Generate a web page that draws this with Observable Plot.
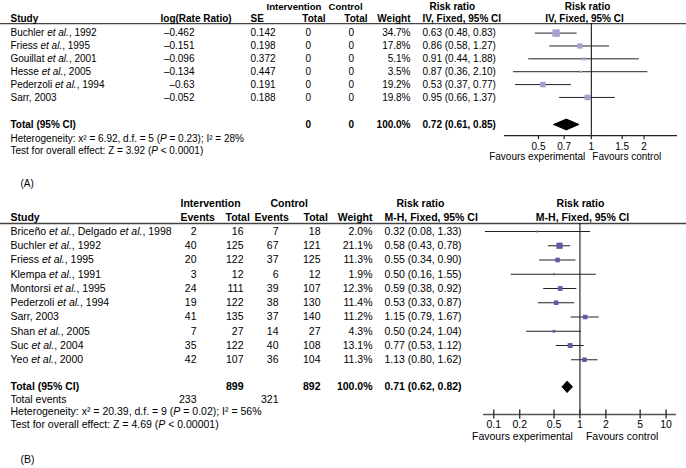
<!DOCTYPE html>
<html>
<head>
<meta charset="utf-8">
<script src="https://cdn.jsdelivr.net/npm/d3@7"></script>
<script src="https://cdn.jsdelivr.net/npm/@observablehq/plot@0.6"></script>
<style>
  html, body { margin: 0; padding: 0; background: #fff; }
  #wrap { position: relative; width: 686px; height: 468px; overflow: hidden; background: #fff; }
  #wrap svg { position: absolute; left: 0; top: 0; }
</style>
</head>
<body>
<div id="wrap"></div>
<script>
// ---------------- Panel A data ----------------
const studiesA = ["Buchler et al., 1992", "Friess et al., 1995", "Gouillat et al., 2001", "Hesse et al., 2005", "Pederzoli et al., 1994", "Sarr, 2003"];
const logRRA = [-0.462, -0.151, -0.096, -0.134, -0.63, -0.052];
const seA = [0.142, 0.198, 0.372, 0.447, 0.191, 0.188];
const intTotalA = [0, 0, 0, 0, 0, 0];
const ctrlTotalA = [0, 0, 0, 0, 0, 0];
const weightA = [34.7, 17.8, 5.1, 3.5, 19.2, 19.8];
const rrA = [0.63, 0.86, 0.91, 0.87, 0.53, 0.95];
const loA = [0.48, 0.58, 0.44, 0.36, 0.37, 0.66];
const hiA = [0.83, 1.27, 1.88, 2.10, 0.77, 1.37];
const totalA = {intTotal: 0, ctrlTotal: 0, weight: 100.0, rr: 0.72, lo: 0.61, hi: 0.85};
const statsA = ["Heterogeneity: x² = 6.92, d.f. = 5 (P = 0.23); I² = 28%", "Test for overall effect: Z = 3.92 (P < 0.0001)"];
const ticksA = [0.5, 0.7, 1, 1.5, 2];

// ---------------- Panel B data ----------------
const studiesB = ["Briceño et al., Delgado et al., 1998", "Buchler et al., 1992", "Friess et al., 1995", "Klempa et al., 1991", "Montorsi et al., 1995", "Pederzoli et al., 1994", "Sarr, 2003", "Shan et al., 2005", "Suc et al., 2004", "Yeo et al., 2000"];
const intEventsB = [2, 40, 20, 3, 24, 19, 41, 7, 35, 42];
const intTotalB = [16, 125, 122, 12, 111, 122, 135, 27, 122, 107];
const ctrlEventsB = [7, 67, 37, 6, 39, 38, 37, 14, 40, 36];
const ctrlTotalB = [18, 121, 125, 12, 107, 130, 140, 27, 108, 104];
const weightB = [2.0, 21.1, 11.3, 1.9, 12.3, 11.4, 11.2, 4.3, 13.1, 11.3];
const rrB = [0.32, 0.58, 0.55, 0.50, 0.59, 0.53, 1.15, 0.50, 0.77, 1.13];
const loB = [0.08, 0.43, 0.34, 0.16, 0.38, 0.33, 0.79, 0.24, 0.53, 0.80];
const hiB = [1.33, 0.78, 0.90, 1.55, 0.92, 0.87, 1.67, 1.04, 1.12, 1.62];
const totalB = {intTotal: 899, ctrlTotal: 892, weight: 100.0, rr: 0.71, lo: 0.62, hi: 0.82, intEvents: 233, ctrlEvents: 321};
const statsB = ["Heterogeneity: x² = 20.39, d.f. = 9 (P = 0.02); I² = 56%", "Test for overall effect: Z = 4.69 (P < 0.00001)"];
const ticksB = [0.1, 0.2, 0.5, 1, 2, 5, 10];

// ---------------- helpers ----------------
const FONT = "'Liberation Sans', Arial, Helvetica, sans-serif";
const fmtDash = v => (v < 0 ? "\u2013" + String(Math.abs(v)) : String(v));
const fmtRR = (r, l, h) => `${r.toFixed(2)} (${l.toFixed(2)}, ${h.toFixed(2)})`;
const fmtW = w => w.toFixed(1) + "%";

function col(data, y, text, dx, anchor, extra = {}) {
  return Plot.text(data, {y, text, frameAnchor: "left", dx, textAnchor: anchor, ...extra});
}
function one(str, row, dx, anchor, extra = {}) {
  return col([str], () => row, d => d, dx, anchor, extra);
}

function italicize(svg) {
  const NS = "http://www.w3.org/2000/svg";
  svg.querySelectorAll("text").forEach(el => {
    const s = el.textContent;
    const parts = s.split(/(et al\.|\(P )/);
    if (parts.length === 1) return;
    while (el.firstChild) el.removeChild(el.firstChild);
    const it = t => { const ts = document.createElementNS(NS, "tspan"); ts.setAttribute("font-style", "italic"); ts.textContent = t; el.appendChild(ts); };
    const tx = t => el.appendChild(document.createTextNode(t));
    for (const p of parts) {
      if (p === "et al.") it("et al.");
      else if (p === "(P ") { tx("("); it("P"); tx(" "); }
      else if (p) tx(p);
    }
  });
}

// ---------------- Panel A ----------------
function panelA() {
  const rows = studiesA.map((name, i) => ({i, name, logRR: logRRA[i], se: seA[i], it: intTotalA[i], ct: ctrlTotalA[i], w: weightA[i], rr: rrA[i], lo: loA[i], hi: hiA[i]}));
  const L = {top: 32.6, step: 12.87, h1: -2.05, h2: -1.12, line: -0.74, total: 7.1, het: 8.2, test: 9.15, axis: 7.96, tickLab: 8.8, fav: 9.6, label: 11.7};
  const dh = 0.42;
  const diamond = [
    {x: totalA.lo, y: L.total}, {x: totalA.rr, y: L.total - dh}, {x: totalA.hi, y: L.total},
    {x: totalA.rr, y: L.total + dh}, {x: totalA.lo, y: L.total}
  ];
  const B = {fontWeight: "bold"};
  return Plot.plot({
    width: 686, height: 468, margin: 0,
    style: {fontFamily: FONT, fontSize: "10px", color: "#000", background: "transparent", overflow: "visible"},
    x: {type: "log", domain: [0.32, 3.1], range: [504, 677], axis: null},
    y: {type: "linear", domain: [0, 1], range: [L.top, L.top + L.step], axis: null},
    r: {type: "sqrt", domain: [0, 34.7], range: [0, 4.2]},
    marks: [
      Plot.ruleY([L.line], {stroke: "#444", strokeWidth: 1.3}),
      one("Intervention", L.h1, 266, "start", {...B, fontSize: 9.6}),
      one("Control", L.h1, 328, "start", {...B, fontSize: 9.6}),
      one("Risk ratio", L.h1, 429, "start", B),
      one("Risk ratio", L.h1, 587, "middle", B),
      one("Study", L.h2, 10, "start", B),
      one("log(Rate Ratio)", L.h2, 160, "start", B),
      one("SE", L.h2, 250, "start", B),
      one("Total", L.h2, 325, "end", B),
      one("Total", L.h2, 367, "end", B),
      one("Weight", L.h2, 410, "end", B),
      one("IV, Fixed, 95% CI", L.h2, 422, "start", B),
      one("IV, Fixed, 95% CI", L.h2, 584, "middle", B),
      col(rows, "i", "name", 10, "start"),
      col(rows, "i", d => fmtDash(d.logRR), 194, "end"),
      col(rows, "i", d => String(d.se), 250, "start"),
      col(rows, "i", d => String(d.it), 305, "start"),
      col(rows, "i", d => String(d.ct), 348, "start"),
      col(rows, "i", d => fmtW(d.w), 410, "end"),
      col(rows, "i", d => fmtRR(d.rr, d.lo, d.hi), 422, "start"),
      one("Total (95% CI)", L.total, 10, "start", B),
      one(String(totalA.intTotal), L.total, 305, "start", B),
      one(String(totalA.ctrlTotal), L.total, 348, "start", B),
      one(fmtW(totalA.weight), L.total, 410, "end", B),
      one(fmtRR(totalA.rr, totalA.lo, totalA.hi), L.total, 422, "start", B),
      one(statsA[0], L.het, 10, "start"),
      one(statsA[1], L.test, 10, "start"),
      one("(A)", L.label, 20, "start"),
      Plot.ruleX([1], {y1: L.line, y2: L.axis, stroke: "#000", strokeWidth: 1}),
      Plot.ruleY(rows, {y: "i", x1: "lo", x2: "hi", stroke: "#222", strokeWidth: 1}),
      Plot.dot(rows, {x: "rr", y: "i", r: "w", symbol: "square", fill: "#a5a1d3"}),
      Plot.line(diamond, {x: "x", y: "y", fill: "#000", stroke: "#000", strokeWidth: 1}),
      Plot.ruleY([L.axis], {x1: 0.32, x2: 3.1, stroke: "#222", strokeWidth: 1.3}),
      Plot.ruleX(ticksA, {x: d => d, y1: L.axis, y2: L.axis + 0.32, stroke: "#222", strokeWidth: 1.2}),
      Plot.text(ticksA, {x: d => d, y: () => L.tickLab, text: d => String(d)}),
      Plot.text(["Favours experimental"], {x: () => 1, y: () => L.fav, text: d => d, textAnchor: "end", dx: -6}),
      Plot.text(["Favours control"], {x: () => 1, y: () => L.fav, text: d => d, textAnchor: "start", dx: 1})
    ]
  });
}

// ---------------- Panel B ----------------
function panelB() {
  const rows = studiesB.map((name, i) => ({i, name, ie: intEventsB[i], it: intTotalB[i], ce: ctrlEventsB[i], ct: ctrlTotalB[i], w: weightB[i], rr: rrB[i], lo: loB[i], hi: hiB[i]}));
  const L = {top: 231, step: 14.25, h1: -1.96, h2: -0.98, line: -0.56, total: 10.9, events: 11.78, het: 12.66, test: 13.54, axis: 12.84, tickLab: 13.58, fav: 14.42, label: 16.0};
  const dh = 0.4;
  const diamond = [
    {x: totalB.lo, y: L.total}, {x: totalB.rr, y: L.total - dh}, {x: totalB.hi, y: L.total},
    {x: totalB.rr, y: L.total + dh}, {x: totalB.lo, y: L.total}
  ];
  const B = {fontWeight: "bold"};
  return Plot.plot({
    width: 686, height: 468, margin: 0,
    style: {fontFamily: FONT, fontSize: "10.5px", color: "#000", background: "transparent", overflow: "visible"},
    x: {type: "log", domain: [0.076, 13.2], range: [483, 676], axis: null},
    y: {type: "linear", domain: [0, 1], range: [L.top, L.top + L.step], axis: null},
    r: {type: "sqrt", domain: [0, 21.1], range: [0, 3.5]},
    marks: [
      Plot.ruleY([L.line], {stroke: "#444", strokeWidth: 1.3}),
      one("Intervention", L.h1, 180, "start", B),
      one("Control", L.h1, 270, "start", B),
      one("Risk ratio", L.h1, 396, "start", B),
      one("Risk ratio", L.h1, 580, "middle", B),
      one("Study", L.h2, 10, "start", B),
      one("Events", L.h2, 180, "start", B),
      one("Total", L.h2, 225, "start", B),
      one("Events", L.h2, 254, "start", B),
      one("Total", L.h2, 303, "start", B),
      one("Weight", L.h2, 372, "end", B),
      one("M-H, Fixed, 95% CI", L.h2, 384, "start", B),
      one("M-H, Fixed, 95% CI", L.h2, 582, "middle", B),
      col(rows, "i", "name", 10, "start"),
      col(rows, "i", d => String(d.ie), 196, "end"),
      col(rows, "i", d => String(d.it), 243, "end"),
      col(rows, "i", d => String(d.ce), 278, "end"),
      col(rows, "i", d => String(d.ct), 320, "end"),
      col(rows, "i", d => fmtW(d.w), 372, "end"),
      col(rows, "i", d => fmtRR(d.rr, d.lo, d.hi), 384, "start"),
      one("Total (95% CI)", L.total, 10, "start", B),
      one(String(totalB.intTotal), L.total, 243, "end", B),
      one(String(totalB.ctrlTotal), L.total, 320, "end", B),
      one(fmtW(totalB.weight), L.total, 372, "end", B),
      one(fmtRR(totalB.rr, totalB.lo, totalB.hi), L.total, 384, "start", B),
      one("Total events", L.events, 10, "start"),
      one(String(totalB.intEvents), L.events, 196, "end"),
      one(String(totalB.ctrlEvents), L.events, 278, "end"),
      one(statsB[0], L.het, 10, "start"),
      one(statsB[1], L.test, 10, "start"),
      one("(B)", L.label, 20, "start"),
      Plot.ruleX([1], {y1: L.line, y2: L.axis, stroke: "#000", strokeWidth: 1}),
      Plot.ruleY(rows, {y: "i", x1: "lo", x2: "hi", stroke: "#222", strokeWidth: 1}),
      Plot.dot(rows, {x: "rr", y: "i", r: "w", symbol: "square", fill: "#5b5ba6"}),
      Plot.line(diamond, {x: "x", y: "y", fill: "#000", stroke: "#000", strokeWidth: 1}),
      Plot.ruleY([L.axis], {x1: 0.076, x2: 13.2, stroke: "#555", strokeWidth: 1.6}),
      Plot.ruleX(ticksB, {x: d => d, y1: L.axis - 0.32, y2: L.axis + 0.32, stroke: "#333", strokeWidth: 1.4}),
      Plot.text(ticksB, {x: d => d, y: () => L.tickLab, text: d => String(d)}),
      Plot.text(["Favours experimental"], {x: () => 1, y: () => L.fav, text: d => d, textAnchor: "end", dx: -7}),
      Plot.text(["Favours control"], {x: () => 1, y: () => L.fav, text: d => d, textAnchor: "start", dx: 6})
    ]
  });
}

const wrap = document.getElementById("wrap");
for (const make of [panelA, panelB]) {
  const svg = make();
  italicize(svg);
  wrap.appendChild(svg);
}
</script>
</body>
</html>
